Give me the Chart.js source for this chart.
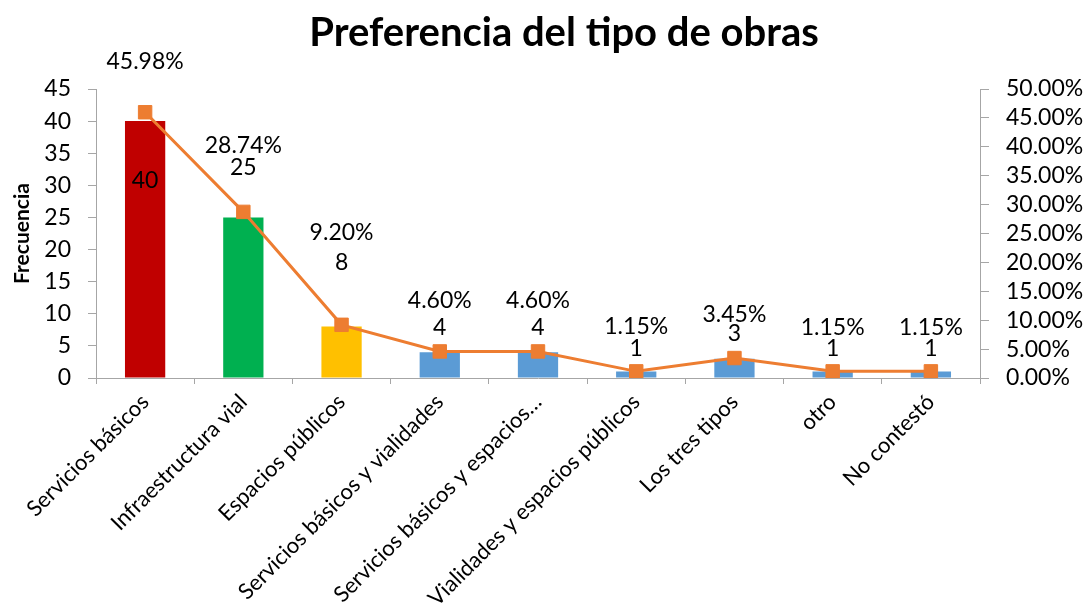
<!DOCTYPE html>
<html>
<head>
<meta charset="utf-8">
<script src="https://cdn.jsdelivr.net/npm/chart.js@4/dist/chart.umd.min.js"></script>
<style>
html,body{margin:0;padding:0;background:#fff;}
#wrap{width:1088px;height:609px;}
</style>
</head>
<body>
<div id="wrap"><canvas id="c" width="1088" height="609"></canvas></div>
<script>
const categories = ["Servicios básicos","Infraestructura vial","Espacios públicos","Servicios básicos y vialidades","Servicios básicos y espacios…","Vialidades y espacios públicos","Los tres tipos","otro","No contestó"];
const frecuencia = [40,25,8,4,4,1,3,1,1];
const porcentaje = [45.98,28.74,9.20,4.60,4.60,1.15,3.45,1.15,1.15];
const leftTicks = [0,5,10,15,20,25,30,35,40,45];
const rightTicks = [0,5,10,15,20,25,30,35,40,45,50];

// label layout (pixel nudges relative to line points)
const pctNudge = [-51,-66,-92,-51,-51,-45,-43,-44,-44];
const cntNudge = [68,-44,-62,-24,-24,-23,-24,-23,-23];
const barColors = ["#C00000","#00B050","#FFC000","#5B9BD5","#5B9BD5","#5B9BD5","#5B9BD5","#5B9BD5","#5B9BD5"];

const FONT = "Lato, 'Liberation Sans', sans-serif";

const labelPlugin = {
  id: 'labels',
  afterDatasetsDraw(chart) {
    const ctx = chart.ctx;
    const meta = chart.getDatasetMeta(1);
    ctx.save();
    ctx.font = "23px " + FONT;
    ctx.fillStyle = "#000";
    ctx.textAlign = "center";
    ctx.textBaseline = "middle";
    meta.data.forEach((pt, i) => {
      ctx.fillText(porcentaje[i].toFixed(2) + "%", pt.x, pt.y + pctNudge[i]);
      ctx.fillText(String(frecuencia[i]), pt.x, pt.y + cntNudge[i]);
    });
    ctx.restore();
  }
};

new Chart(document.getElementById('c'), {
  data: {
    labels: categories,
    datasets: [
      {
        type: 'bar',
        data: frecuencia,
        backgroundColor: barColors,
        yAxisID: 'y',
        categoryPercentage: 1,
        barPercentage: 0.41,
        order: 1
      },
      {
        type: 'line',
        data: porcentaje,
        yAxisID: 'y2',
        borderColor: '#ED7D31',
        backgroundColor: '#ED7D31',
        borderWidth: 3,
        pointStyle: 'rect',
        pointRadius: 9.5,
        pointBorderWidth: 1,
        pointBorderColor: '#ED7D31',
        pointBackgroundColor: '#ED7D31',
        tension: 0,
        order: 0
      }
    ]
  },
  options: {
    responsive: false,
    devicePixelRatio: 1,
    animation: false,
    layout: { padding: { left: 40, right: 0, top: 0, bottom: 0 } },
    plugins: {
      legend: { display: false },
      tooltip: { enabled: false },
      title: {
        display: true,
        text: 'Preferencia del tipo de obras',
        color: '#000',
        font: { family: FONT, size: 40, weight: 'bold', lineHeight: 1.2 },
        padding: { top: 9, bottom: 32 }
      }
    },
    scales: {
      x: {
        offset: true,
        grid: { display: true, offset: true, drawOnChartArea: false, drawTicks: true, tickLength: 6, color: '#A6A6A6' },
        border: { display: true, color: '#A6A6A6', width: 1 },
        ticks: { color: '#000', font: { family: FONT, size: 22 }, maxRotation: 45, minRotation: 45, autoSkip: false, padding: 5 },
        afterFit(scale) { scale.height = 231; }
      },
      y: {
        position: 'left',
        min: 0, max: 45,
        afterBuildTicks(scale) { scale.ticks = leftTicks.map(v => ({ value: v })); },
        grid: { display: true, drawOnChartArea: false, drawTicks: true, tickLength: 8, color: '#A6A6A6' },
        border: { display: true, color: '#A6A6A6', width: 1 },
        ticks: { color: '#000', font: { family: FONT, size: 23 }, padding: 17, autoSkip: false },
        title: { display: true, text: 'Frecuencia', color: '#000', font: { family: FONT, size: 21, weight: 'bold' }, padding: { top: -30.5, bottom: 0 } },
        afterFit(scale) { scale.width = 56; }
      },
      y2: {
        position: 'right',
        min: 0, max: 50,
        afterBuildTicks(scale) { scale.ticks = rightTicks.map(v => ({ value: v })); },
        grid: { display: true, drawOnChartArea: false, drawTicks: true, tickLength: 9, color: '#A6A6A6' },
        border: { display: true, color: '#A6A6A6', width: 1 },
        ticks: { color: '#000', font: { family: FONT, size: 23 }, padding: 17, autoSkip: false, callback: v => Number(v).toFixed(2) + '%' },
        afterFit(scale) { scale.width = 108; }
      }
    }
  },
  plugins: [labelPlugin]
});
</script>
</body>
</html>
